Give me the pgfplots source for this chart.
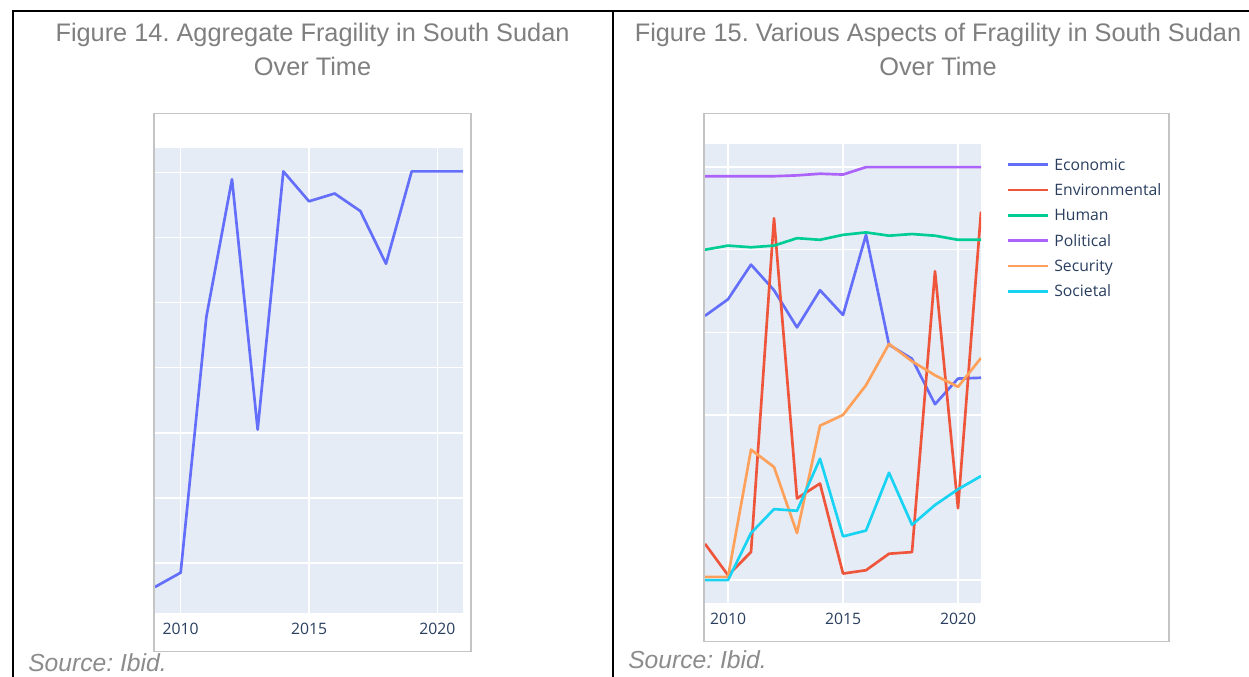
\documentclass[border=0pt]{standalone}
\usepackage{pgfplots}
\pgfplotsset{compat=1.18}
\usepackage{fontspec}
\setmainfont{Liberation Sans}
\newfontfamily\plotfont{Open Sans}
\frenchspacing
\definecolor{bgc}{HTML}{E5ECF6}
\definecolor{tickc}{HTML}{2A3F5F}
\definecolor{cEco}{HTML}{636EFA}
\definecolor{cEnv}{HTML}{EF553B}
\definecolor{cHum}{HTML}{00CC96}
\definecolor{cPol}{HTML}{AB63FA}
\definecolor{cSec}{HTML}{FFA15A}
\definecolor{cSoc}{HTML}{19D3F3}
\definecolor{titlec}{HTML}{7F7F7F}
\definecolor{srcc}{HTML}{8C8C8C}
\definecolor{framec}{HTML}{C4C4C4}

\pgfplotsset{plotlybase/.style={
  scale only axis,
  axis background/.style={fill=bgc},
  axis line style={draw=none},
  major tick length=0pt,
  grid=major,
  major grid style={white, line width=1pt},
  xtick={2010,2015,2020},
  xticklabels={2010,2015,2020},
  xticklabel style={font=\plotfont\fontsize{11.8}{14}\selectfont, text=tickc, inner sep=0pt, anchor=north, yshift=-7.5pt},
  yticklabels={},
  xmin=2009, xmax=2021,
  every axis plot/.append style={line width=2pt, no markers, line join=round},
}}

\pgfplotstableread{
year agg
2009 -0.37
2010 -0.15
2011 3.78
2012 5.90
2013 2.05
2014 6.02
2015 5.56
2016 5.68
2017 5.41
2018 4.60
2019 6.02
2020 6.02
2021 6.02
}\aggtable

\pgfplotstableread{
year eco env hum pol sec soc
2009 3.20 0.44 4.00 4.89 0.04 0.00
2010 3.40 0.06 4.05 4.89 0.04 0.00
2011 3.82 0.34 4.03 4.89 1.58 0.57
2012 3.51 4.38 4.05 4.89 1.37 0.86
2013 3.06 0.99 4.14 4.90 0.57 0.84
2014 3.51 1.17 4.12 4.92 1.87 1.47
2015 3.21 0.08 4.18 4.91 2.00 0.53
2016 4.18 0.12 4.21 5.00 2.36 0.60
2017 2.85 0.32 4.17 5.00 2.86 1.30
2018 2.68 0.34 4.19 5.00 2.65 0.67
2019 2.13 3.74 4.17 5.00 2.48 0.91
2020 2.44 0.87 4.12 5.00 2.34 1.10
2021 2.45 4.46 4.12 5.00 2.69 1.26
}\aspecttable

\begin{document}
\begin{tikzpicture}
\path[use as bounding box, fill=white] (0pt,0pt) rectangle (936.75pt,507.75pt);

% table lines
\draw[black, line width=1.5pt] (9.75pt,-1pt) -- (9.75pt,499.5pt) -- (937pt,499.5pt);
\draw[black, line width=1.5pt] (459.375pt,-1pt) -- (459.375pt,499.5pt);

% titles
\node[anchor=base, text=titlec, font=\fontsize{19}{23}\selectfont, inner sep=0pt] at (234.4pt,476.6pt) {Figure 14. Aggregate Fragility in South Sudan};
\node[anchor=base, text=titlec, font=\fontsize{19}{23}\selectfont, inner sep=0pt] at (234.4pt,451.1pt) {Over Time};
\node[anchor=base, text=titlec, font=\fontsize{19}{23}\selectfont, inner sep=0pt] at (703.5pt,476.6pt) {Figure 15. Various Aspects of Fragility in South Sudan};
\node[anchor=base, text=titlec, font=\fontsize{19}{23}\selectfont, inner sep=0pt] at (703.5pt,451.1pt) {Over Time};

% sources
\node[anchor=base west, text=srcc, font=\fontsize{18.5}{22}\selectfont\itshape, inner sep=0pt] at (21pt,4.2pt) {Source: Ibid.};
\node[anchor=base west, text=srcc, font=\fontsize{18.5}{22}\selectfont\itshape, inner sep=0pt] at (471pt,6pt) {Source: Ibid.};

% plotly frames
\draw[framec, line width=0.9pt] (115.5pt,18.975pt) rectangle (353.25pt,422.775pt);
\draw[framec, line width=0.9pt] (528pt,26.475pt) rectangle (876.75pt,422.775pt);

\begin{axis}[plotlybase,
  at={(116.25pt,48pt)}, anchor=south west,
  width=231pt, height=348.75pt,
  ymin=-0.77, ymax=6.38, ytick={0,1,2,3,4,5,6},
]
\addplot[cEco] table[x=year,y=agg] {\aggtable};
\end{axis}

\begin{axis}[plotlybase,
  at={(528.75pt,55.275pt)}, anchor=south west,
  width=207pt, height=344.475pt,
  ymin=-0.28, ymax=5.28, ytick={0,1,2,3,4,5},
  legend cell align=left,
  legend image code/.code={\draw[#1] (0pt,0pt) -- (30pt,0pt);},
  legend style={at={(1,1)}, anchor=north west, xshift=19.3pt, yshift=-9.4pt,
    draw=none, fill=none, inner sep=0pt, row sep=7.4pt, column sep=3.5pt,
    font=\plotfont\fontsize{11.8}{14}\selectfont, text=tickc,
    nodes={inner sep=0pt, text height=10pt, text depth=1.6pt}},
]
\addplot[cEco] table[x=year,y=eco] {\aspecttable};
\addlegendentry{Economic}
\addplot[cEnv] table[x=year,y=env] {\aspecttable};
\addlegendentry{Environmental}
\addplot[cHum] table[x=year,y=hum] {\aspecttable};
\addlegendentry{Human}
\addplot[cPol] table[x=year,y=pol] {\aspecttable};
\addlegendentry{Political}
\addplot[cSec] table[x=year,y=sec] {\aspecttable};
\addlegendentry{Security}
\addplot[cSoc] table[x=year,y=soc] {\aspecttable};
\addlegendentry{Societal}
\end{axis}
\end{tikzpicture}
\end{document}
